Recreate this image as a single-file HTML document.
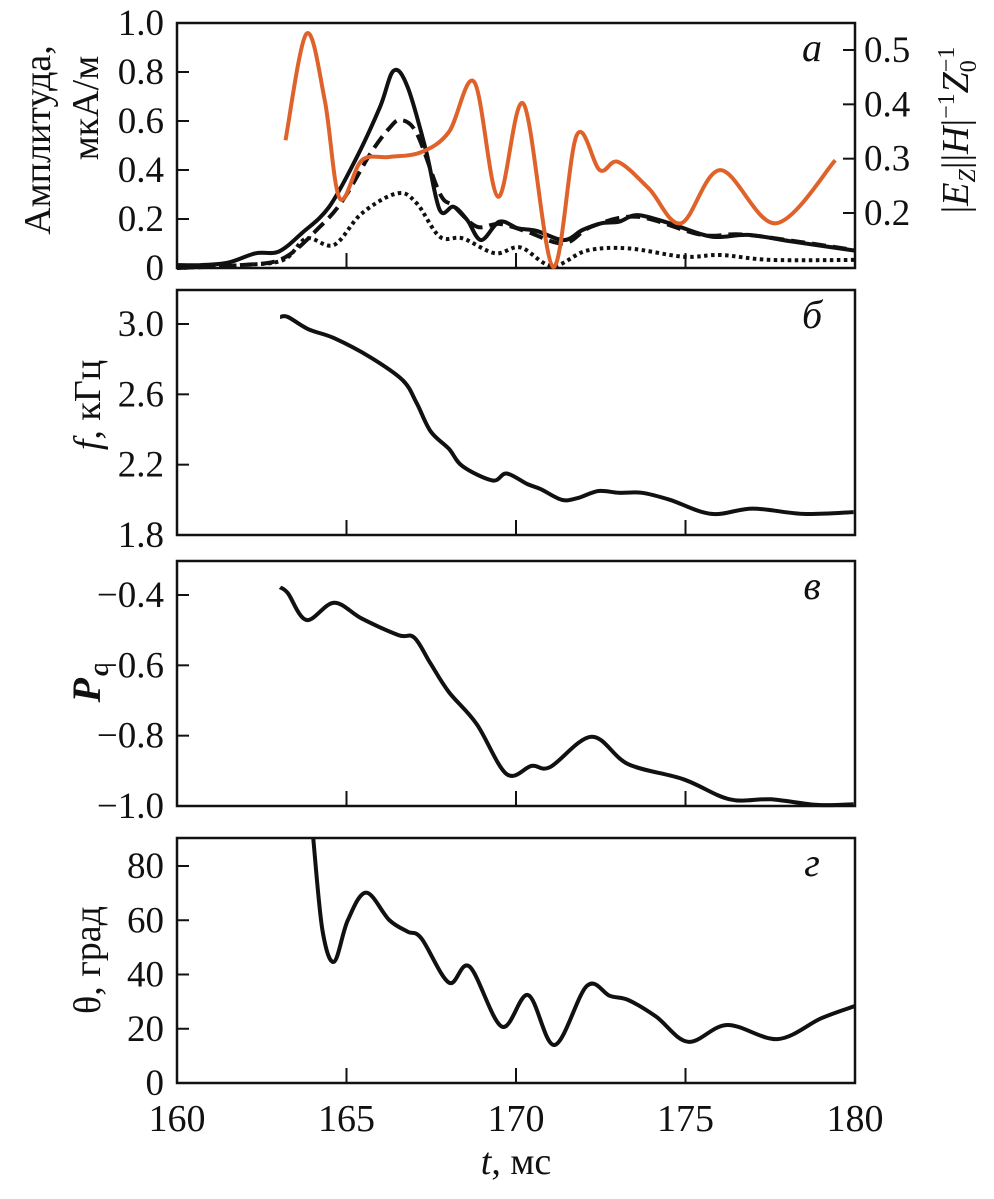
<!DOCTYPE html>
<html><head><meta charset="utf-8"><style>
html,body{margin:0;padding:0;background:#fff}
svg{display:block}
text{font-family:"Liberation Serif","Noto Serif CJK SC",serif;fill:#111}
</style></head><body>
<svg id="chart" width="994" height="1199" viewBox="0 0 994 1199" xmlns="http://www.w3.org/2000/svg">
<g id="root"></g>
</svg>
<script>
// ---- data ----
const xTicks = [160,165,170,175,180];
// panel a
const aLeftTicks = [0,0.2,0.4,0.6,0.8,1.0];
const aLeftLabels = ["0","0.2","0.4","0.6","0.8","1.0"];
const aRightTicks = [0.2,0.3,0.4,0.5];
const solidT = [160,160.7,161.51,162.32,163,163.68,164.49,165.31,165.99,166.39,166.8,167.34,167.75,168.16,168.56,168.97,169.51,170.06,170.6,171.41,171.96,172.5,173.04,173.59,174.54,175.76,176.85,178.2,180];
const solidV = [0.012,0.012,0.022,0.06,0.067,0.142,0.25,0.454,0.658,0.805,0.74,0.482,0.237,0.25,0.196,0.114,0.189,0.162,0.152,0.114,0.155,0.182,0.189,0.216,0.182,0.128,0.135,0.107,0.071];
const dashT = [160,161.9,163.14,164.22,164.9,165.71,166.26,166.6,167.07,167.75,168.16,168.84,169.51,170.33,171.41,172.23,173.59,175.48,176.85,180];
const dashV = [0,0.012,0.04,0.169,0.278,0.468,0.57,0.604,0.55,0.305,0.253,0.169,0.18,0.148,0.1,0.169,0.209,0.135,0.135,0.073];
const dotT = [160,161.9,163.14,163.82,164.63,165.45,166.5,167.07,167.75,168.43,169.38,170.13,171.07,172.09,173.31,174.94,176.03,177.52,180];
const dotV = [0,0.012,0.033,0.121,0.094,0.223,0.305,0.264,0.128,0.121,0.06,0.084,0.008,0.071,0.08,0.046,0.053,0.033,0.033];
const orT = [163.2,163.82,164.36,164.8,165.45,166.26,167.21,168.02,168.77,169.47,170.22,171.09,171.79,172.47,173.01,173.92,174.87,176.03,177.66,179.42];
const orV = [0.334,0.53,0.407,0.227,0.297,0.303,0.312,0.349,0.441,0.23,0.401,0.101,0.343,0.279,0.294,0.245,0.181,0.279,0.181,0.297];
// panel b
const bTicks = [1.8,2.2,2.6,3.0];
const bLabels = ["1.8","2.2","2.6","3.0"];
const fT = [163.04,163.27,163.88,164.63,165.71,166.66,167.07,167.48,168.02,168.43,169.31,169.72,170.33,170.74,171.35,171.82,172.43,173.04,173.72,174.54,175.76,176.98,178.47,179.96];
const fV = [3.04,3.04,2.97,2.92,2.81,2.68,2.55,2.39,2.29,2.19,2.11,2.15,2.09,2.06,2.0,2.01,2.05,2.04,2.04,2.0,1.92,1.95,1.92,1.93];
// panel c
const cTicks = [-1.0,-0.8,-0.6,-0.4];
const cLabels = ["\u22121.0","\u22120.8","\u22120.6","\u22120.4"];
const pT = [163.04,163.27,163.82,164.63,165.45,166.53,167.0,167.48,168.02,168.84,169.72,170.46,171.01,172.23,173.31,174.94,176.3,177.52,178.88,179.96];
const pV = [-0.378,-0.395,-0.471,-0.422,-0.467,-0.514,-0.521,-0.595,-0.676,-0.767,-0.909,-0.886,-0.889,-0.803,-0.881,-0.924,-0.981,-0.981,-0.997,-0.995];
// panel d
const dTicks = [0,20,40,60,80];
const dLabels = ["0","20","40","60","80"];
const thT = [164.02,164.29,164.63,165.04,165.58,166.26,166.8,167.21,168.02,168.63,169.58,170.36,171.14,172.09,172.77,173.31,174.13,175.08,176.23,177.72,179.01,180.03];
const thV = [90,56.4,44.7,60.1,70.2,60.1,55.8,53.3,37.0,42.9,20.8,32.4,14.0,35.8,32.1,30.6,24.5,15.2,21.4,16.2,23.9,28.5];

// ---- layout ----
const NS = "http://www.w3.org/2000/svg";
const root = document.getElementById('root');
const X0 = 177, X1 = 855;
const FS = 37;
const xs = t => X0 + (t-160)/20*(X1-X0);
function el(tag, attrs, parent){ const e=document.createElementNS(NS,tag); for(const k in attrs) e.setAttribute(k,attrs[k]); (parent||root).appendChild(e); return e; }
function lin(d0,d1,r0,r1){ return v => r0 + (v-d0)/(d1-d0)*(r1-r0); }
function path(T,V,ys){
  const p = T.map((t,i)=>[xs(t), ys(V[i])]);
  let d = "M"+p[0][0].toFixed(1)+","+p[0][1].toFixed(1);
  for(let i=0;i<p.length-1;i++){
    const p0=p[Math.max(0,i-1)], p1=p[i], p2=p[i+1], p3=p[Math.min(p.length-1,i+2)];
    const c1=[p1[0]+(p2[0]-p0[0])/6, p1[1]+(p2[1]-p0[1])/6];
    const c2=[p2[0]-(p3[0]-p1[0])/6, p2[1]-(p3[1]-p1[1])/6];
    d += " C"+c1.map(v=>v.toFixed(1))+" "+c2.map(v=>v.toFixed(1))+" "+p2.map(v=>v.toFixed(1));
  }
  return d;
}
function panel(name, top, bot, ticks, labels, ys, letter){
  const g = el('g',{});
  
  
  const r = el('rect',{x:X0,y:top,width:X1-X0,height:bot-top,fill:'none',stroke:'#111','stroke-width':2.5},g);
  
  
  ticks.forEach((v,i)=>{
    const y = ys(v);
    if(Math.abs(y-bot)>2 && Math.abs(y-top)>2) el('line',{x1:X0,x2:X0+12,y1:y,y2:y,stroke:'#111','stroke-width':2},g);
    const tx = el('text',{x:164,y:y+12,'text-anchor':'end','font-size':FS},g);
    tx.textContent = labels[i];
    
    
  });
  xTicks.slice(1,-1).forEach(t=>{
    el('line',{x1:xs(t),x2:xs(t),y1:bot,y2:bot-15,stroke:'#111','stroke-width':2},g);
  });
  const lt = el('text',{x:812,y:top+38,'text-anchor':'middle','font-size':40,'font-style':'italic'},g);
  lt.textContent = letter;
  
  
  return g;
}
// panel a
const yaL = lin(0,1,268,23);
const yaR = lin(0.2,0.5,213,50);
const ga = panel('panel-a',23,268,aLeftTicks,aLeftLabels,yaL,'a');
aRightTicks.forEach(v=>{
  const y=yaR(v);
  el('line',{x1:X1-12,x2:X1,y1:y,y2:y,stroke:'#111','stroke-width':2},ga);
  const tx=el('text',{x:864,y:y+12,'font-size':FS},ga);
  tx.textContent=v.toFixed(1);
  
  
});
let s;
s=el('path',{d:path(dotT,dotV,yaL),fill:'none',stroke:'#111','stroke-width':4,'stroke-dasharray':'3.5 3.5'},ga);
 
s=el('path',{d:path(dashT,dashV,yaL),fill:'none',stroke:'#111','stroke-width':4,'stroke-dasharray':'14 7'},ga);
 
s=el('path',{d:path(solidT,solidV,yaL),fill:'none',stroke:'#111','stroke-width':4},ga);
 
s=el('path',{d:path(orT,orV,yaR),fill:'none',stroke:'#e0622b','stroke-width':4},ga);
 
// panel b
const yb = lin(1.8,3.0,535,324);
const gb = panel('panel-b',290,535,bTicks,bLabels,yb,'б');
s=el('path',{d:path(fT,fV,yb),fill:'none',stroke:'#111','stroke-width':4},gb);
 
// panel c
const yc = lin(-1.0,-0.4,806,595);
const gc = panel('panel-c',561,806,cTicks,cLabels,yc,'в');
s=el('path',{d:path(pT,pV,yc),fill:'none',stroke:'#111','stroke-width':4},gc);
 
// panel d
const yd = lin(0,80,1083,866);
const gd = panel('panel-d',838,1083,dTicks,dLabels,yd,'г');
const clip = el('clipPath',{id:'cd'}); el('rect',{x:X0,y:838,width:X1-X0,height:245},clip);
s=el('path',{d:path(thT,thV,yd),fill:'none',stroke:'#111','stroke-width':4,'clip-path':'url(#cd)'},gd);
 
// x tick labels
xTicks.forEach(t=>{
  const tx=el('text',{x:xs(t),y:1131,'text-anchor':'middle','font-size':38});
  tx.textContent=String(t);
  
  
});
</script>
<svg style="position:absolute;left:0;top:0" width="994" height="1199">
<text x="516" y="1174" text-anchor="middle" font-size="38" style="font-family:'Liberation Serif',serif"><tspan font-style="italic">t</tspan>, мс</text>
<text transform="translate(50,140) rotate(-90)" text-anchor="middle" font-size="38" style="font-family:'Liberation Serif',serif">Амплитуда,</text>
<text transform="translate(98,108) rotate(-90)" text-anchor="middle" font-size="38" style="font-family:'Liberation Serif',serif">мкА/м</text>
<text transform="translate(100,405) rotate(-90)" text-anchor="middle" font-size="38" style="font-family:'Liberation Serif',serif"><tspan font-style="italic">f</tspan>, кГц</text>
<text transform="translate(100,683) rotate(-90)" text-anchor="middle" font-size="40" font-weight="bold" font-style="italic" style="font-family:'Liberation Serif',serif">P<tspan font-size="28" dx="2" dy="8">c</tspan></text>
<text transform="translate(100,960) rotate(-90)" text-anchor="middle" font-size="38" style="font-family:'Liberation Serif',serif">θ, град</text>
<text transform="translate(968,130) rotate(-90)" text-anchor="middle" font-size="38" style="font-family:'Liberation Serif',serif">|<tspan font-style="italic">E</tspan><tspan font-style="italic" font-size="24" dy="7">Z</tspan><tspan dy="-7">||</tspan><tspan font-style="italic">H</tspan>|<tspan font-size="24" dy="-14">−1</tspan><tspan font-style="italic" dy="14">Z</tspan><tspan font-size="24" dy="8">0</tspan><tspan font-size="24" dx="-12" dy="-22">−1</tspan></text>
</svg>
</body></html>
